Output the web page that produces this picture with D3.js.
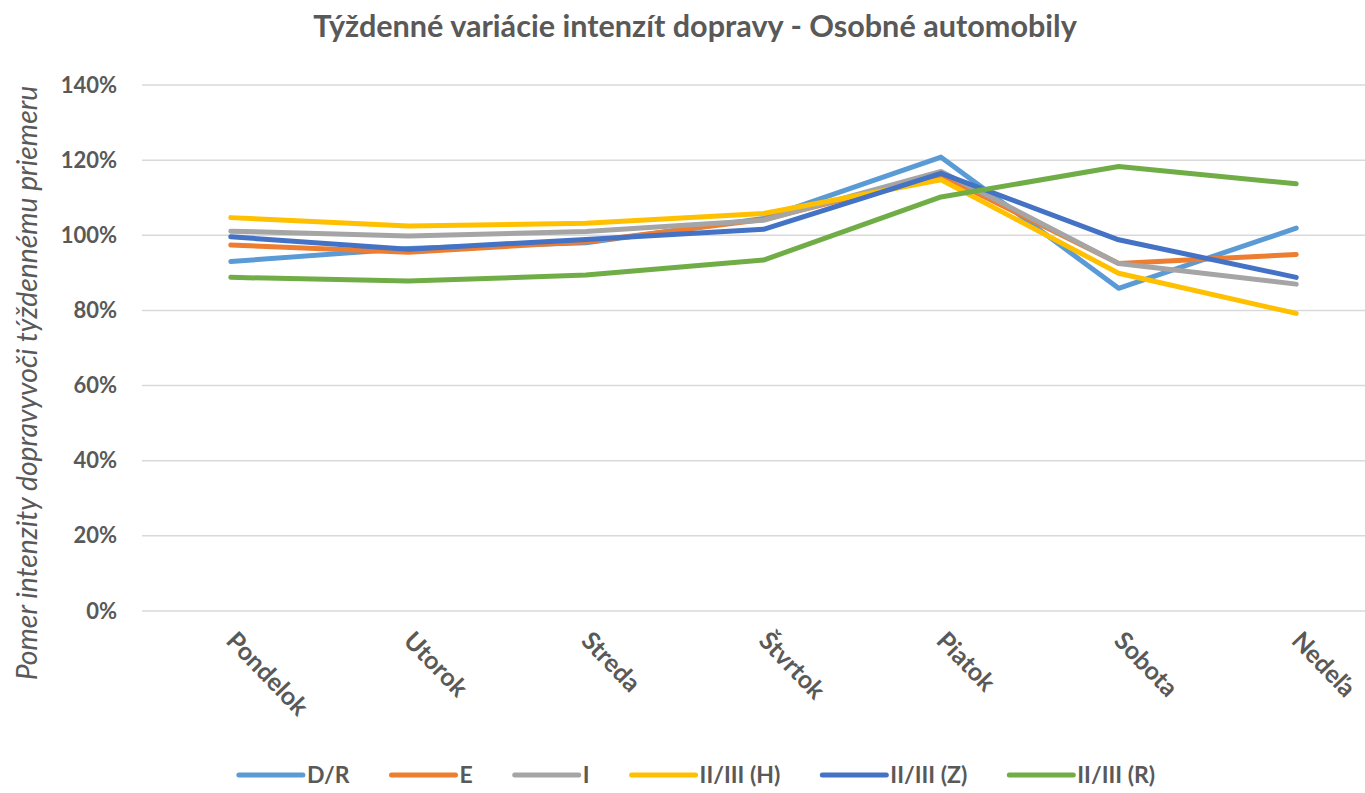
<!DOCTYPE html>
<html><head><meta charset="utf-8">
<script src="https://cdn.jsdelivr.net/npm/d3@7"></script>
<style>html,body{margin:0;padding:0;background:#fff;overflow:hidden}</style>
</head><body>
<svg id="c" width="1365" height="793"></svg>
<script>
const titleText = "Týždenné variácie intenzít dopravy - Osobné automobily";
const yTitleText = "Pomer intenzity dopravyvoči týždennému priemeru";
const days = ["Pondelok","Utorok","Streda","Štvrtok","Piatok","Sobota","Nedeľa"];
const seriesNames = ["D/R","E","I","II/III (H)","II/III (Z)","II/III (R)"];
const seriesColors = ["#5B9BD5","#ED7D31","#A5A5A5","#FFC000","#4472C4","#70AD47"];
const yTicks = [0,0.2,0.4,0.6,0.8,1.0,1.2,1.4];
const valsDR = [0.930,0.965,0.980,1.045,1.208,0.859,1.019];
const valsE  = [0.974,0.955,0.983,1.042,1.160,0.925,0.949];
const valsI  = [1.011,0.998,1.010,1.040,1.170,0.925,0.870];
const valsH  = [1.047,1.025,1.032,1.058,1.148,0.899,0.792];
const valsZ  = [0.996,0.963,0.989,1.016,1.165,0.988,0.888];
const valsR  = [0.888,0.878,0.894,0.934,1.102,1.183,1.137];
const allVals = [valsDR,valsE,valsI,valsH,valsZ,valsR];

const svg = d3.select("#c");
const FONT = "Lato, 'Open Sans', sans-serif";
const TXT = "#595959";
const pLeft = 142, pRight = 1385, pTop = 85, pBottom = 611;

const x = d3.scaleBand().domain(days).range([pLeft,pRight]).padding(0);
const y = d3.scaleLinear().domain([0,1.4]).range([pBottom,pTop]);

function fit(sel, target){
  const w = sel.node().getComputedTextLength();
  const fs = parseFloat(sel.attr("font-size"));
  sel.attr("font-size", fs*target/w);
}

// title
const t = svg.append("text").attr("x",695).attr("y",37).attr("text-anchor","middle")
  .attr("font-family",FONT).attr("font-weight","bold").attr("font-size",22).attr("fill",TXT).text(titleText);
fit(t,764);

// gridlines
svg.append("g").selectAll("line").data(yTicks).join("line")
  .attr("x1",pLeft).attr("x2",pRight).attr("y1",d=>y(d)).attr("y2",d=>y(d))
  .attr("stroke","#d9d9d9").attr("stroke-width",1.5);

// y axis
const yAxis = svg.append("g").attr("transform",`translate(${pLeft},0)`)
  .call(d3.axisLeft(y).tickValues(yTicks).tickFormat(d3.format(".0%")).tickSize(0).tickPadding(25));
yAxis.select(".domain").remove();
yAxis.selectAll("text").attr("font-family",FONT).attr("font-weight","bold").attr("font-size",22).attr("fill",TXT);

// y title
const yt = svg.append("text").attr("transform","translate(37,383) rotate(-90)").attr("text-anchor","middle")
  .attr("font-family",FONT).attr("font-style","italic").attr("font-size",20).attr("fill",TXT).text(yTitleText);
fit(yt,595);

// x axis
const xAxis = svg.append("g").attr("transform",`translate(0,${pBottom})`)
  .call(d3.axisBottom(x).tickSize(0).tickPadding(0));
xAxis.select(".domain").remove();
xAxis.selectAll("text").attr("font-family",FONT).attr("font-weight","bold").attr("font-size",25).attr("fill",TXT)
  .attr("text-anchor","start").attr("dy",null).attr("y",0)
  .attr("transform","translate(-6,31) rotate(46)");

// lines
const line = d3.line().x((d,i)=>x(days[i])+x.bandwidth()/2).y(d=>y(d));
svg.append("g").selectAll("path").data(allVals).join("path")
  .attr("d",line).attr("fill","none").attr("stroke",(d,i)=>seriesColors[i])
  .attr("stroke-width",5).attr("stroke-linejoin","round").attr("stroke-linecap","round");

// legend
const lg = svg.append("g");
let cx = 0;
seriesNames.forEach((n,i)=>{
  const g = lg.append("g").attr("transform",`translate(${cx},0)`);
  g.append("line").attr("x1",0).attr("x2",64).attr("y1",0).attr("y2",0)
    .attr("stroke",seriesColors[i]).attr("stroke-width",5).attr("stroke-linecap","round");
  const tx = g.append("text").attr("x",68).attr("y",8).attr("font-family",FONT).attr("font-weight","bold")
    .attr("font-size",23).attr("fill",TXT).text(n);
  cx += 68 + tx.node().getComputedTextLength() + 42;
});
const totalW = cx - 42;
lg.attr("transform",`translate(${697 - totalW/2},775)`);
</script>
</body></html>
